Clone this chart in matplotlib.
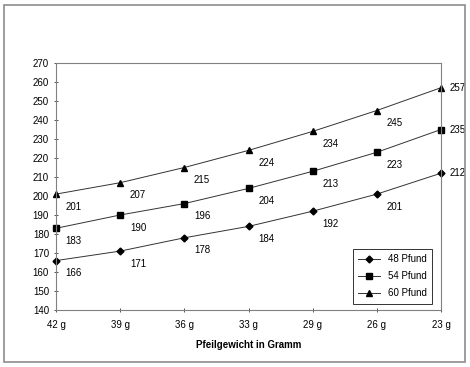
import matplotlib
matplotlib.use("Agg")
import matplotlib.pyplot as plt
from matplotlib.patches import Rectangle

plt.rcParams["font.family"] = ["Liberation Sans", "DejaVu Sans"]

weights = ["42 g", "39 g", "36 g", "33 g", "29 g", "26 g", "23 g"]
pfund48 = [166, 171, 178, 184, 192, 201, 212]
pfund54 = [183, 190, 196, 204, 213, 223, 235]
pfund60 = [201, 207, 215, 224, 234, 245, 257]

series = [
    ("48 Pfund", pfund48, "D", 3.5),
    ("54 Pfund", pfund54, "s", 5),
    ("60 Pfund", pfund60, "^", 5),
]

fig = plt.figure(figsize=(4.7, 3.67), dpi=100)
fig.patches.append(Rectangle((4 / 470, 5 / 367), 461 / 470, 357 / 367,
                             transform=fig.transFigure, fill=False,
                             edgecolor="#8c8c8c", linewidth=1.2))
ax = fig.add_axes([56 / 470, 57 / 367, 385 / 470, 247 / 367])

x = list(range(len(weights)))
last = len(weights) - 1
for name, vals, mk, ms in series:
    ax.plot(x, vals, color="#333333", linewidth=0.7, marker=mk,
            markersize=ms, markerfacecolor="black", markeredgecolor="black",
            label=name, clip_on=False)
    for xi, v in zip(x, vals):
        off = (6, 0) if xi == last else (7, -9)
        ax.annotate(str(v), (xi, v), xytext=off, textcoords="offset points",
                    fontsize=7, ha="left", va="center")

ax.set_xlim(0, 6)
ax.set_ylim(140, 270)
ax.set_yticks(range(140, 271, 10))
ax.set_xticks(x)
ax.set_xticklabels(weights)
ax.tick_params(axis="both", labelsize=7, length=3, width=0.7,
               direction="inout", color="#555555")
ax.tick_params(axis="x", pad=6)
for s in ax.spines.values():
    s.set_color("#808080")
    s.set_linewidth(0.8)
ax.set_xlabel("Pfeilgewicht in Gramm", fontsize=7, fontweight="bold", labelpad=7)

leg = ax.legend(loc="lower right", bbox_to_anchor=(0.99, 0.005), fontsize=7,
                frameon=True, fancybox=False, edgecolor="black",
                handlelength=2.2, borderpad=0.6, labelspacing=0.7)
leg.get_frame().set_linewidth(0.7)

fig.savefig("out.png", dpi=100, facecolor="white")
